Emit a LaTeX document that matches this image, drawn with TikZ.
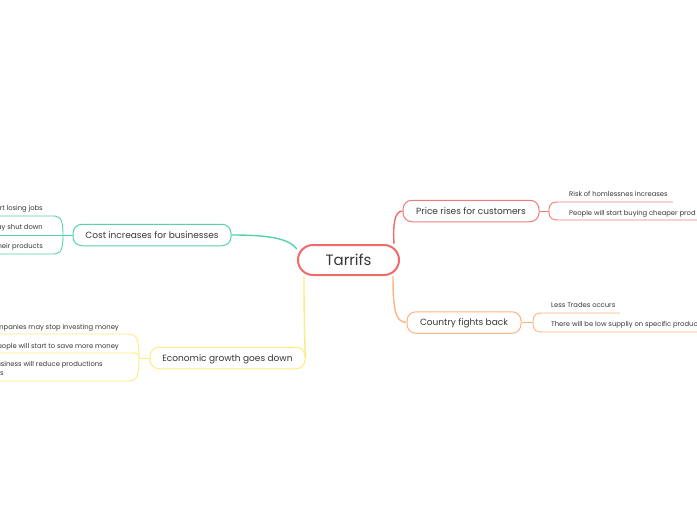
\documentclass[tikz,border=0pt]{standalone}
\usepackage{fontspec}
\setmainfont{Poppins}
\definecolor{rootred}{RGB}{242,107,107}
\definecolor{redl}{RGB}{244,122,122}
\definecolor{orng}{RGB}{255,180,128}
\definecolor{grn}{RGB}{86,212,166}
\definecolor{yel}{RGB}{253,236,130}
\definecolor{txt}{RGB}{55,55,55}
\begin{document}
\begin{tikzpicture}[x=1pt,y=-1pt,
  rootbox/.style={draw=rootred, line width=2pt, rounded corners=15pt, minimum width=101pt, minimum height=30pt, inner sep=0pt, text height=10.5pt, text depth=0pt, font=\fontsize{15}{18}\selectfont, text=txt, fill=white},
  topicbox/.style={line width=1pt, rounded corners=9pt, minimum height=21.5pt, inner sep=0pt, text height=6.4pt, text depth=0pt, font=\fontsize{9}{11}\selectfont, text=txt, fill=white},
  subtext/.style={inner sep=0pt, text height=4.8pt, text depth=0pt, font=\fontsize{6.8}{9}\selectfont, text=txt},
  conn/.style={line width=1.4pt},
  subconn/.style={line width=0.9pt}]
\useasboundingbox (0,0) rectangle (697,520);
\fill[white] (0,0) rectangle (697,520);
\clip (0,0) rectangle (697,520);

% root
\node[rootbox] (T) at (348.5,260) {Tarrifs};

% main topics
\node[topicbox, draw=redl, minimum width=136pt] (P) at (471,211) {Price rises for customers};
\node[topicbox, draw=orng, minimum width=114pt] (C) at (464,322.5) {Country fights back};
\node[topicbox, draw=grn, minimum width=158pt] (B) at (152,235) {Cost increases for businesses};
\node[topicbox, draw=yel, minimum width=155pt] (E) at (227.5,358) {Economic growth goes down};

% connectors from root
\draw[conn, draw=rootred] ([xshift=-6pt]T.north east) .. controls (393,226) and (394,211) .. (P.west);
\draw[conn, draw=orng] ([xshift=-7pt]T.south east) .. controls (393,308) and (395,322.5) .. (C.west);
\draw[conn, draw=grn] (B.east) .. controls (268,235) and (288,238) .. ([yshift=11pt]T.west);
\draw[conn, draw=yel] ([xshift=-44.5pt]T.south) .. controls (304,330) and (305,345) .. (E.east);

% Price subtopics
\coordinate (pj) at (549,211);
\coordinate (p1s) at (561,202);
\coordinate (p1e) at (673,202);
\coordinate (p2s) at (561,220);
\coordinate (p2e) at (700,220);
\draw[subconn, draw=redl] (P.east) -- (pj);
\draw[subconn, draw=redl] (pj) .. controls (549,202) and (553,202) .. (p1s) -- (p1e);
\draw[subconn, draw=redl] (pj) .. controls (549,220) and (553,220) .. (p2s) -- (p2e);
\node[subtext, anchor=west] (p1) at (569,194.5) {Risk of homlessnes increases};
\node[subtext, anchor=west] (p2) at (569,213) {People will start buying cheaper prod};

% Country subtopics
\coordinate (cj) at (533,322.5);
\coordinate (c1s) at (545,313);
\coordinate (c1e) at (620,313);
\coordinate (c2s) at (545,332);
\coordinate (c2e) at (700,332);
\draw[subconn, draw=orng] (C.east) -- (cj);
\draw[subconn, draw=orng] (cj) .. controls (533,313) and (537,313) .. (c1s) -- (c1e);
\draw[subconn, draw=orng] (cj) .. controls (533,332) and (537,332) .. (c2s) -- (c2e);
\node[subtext, anchor=west] (c1) at (551,305.5) {Less Trades occurs};
\node[subtext, anchor=west] (c2) at (551,324) {There will be low suppliy on specific produc};

% Cost subtopics
\coordinate (bj) at (63,235);
\coordinate (b1s) at (51,216);
\coordinate (b1e) at (-3,216);
\coordinate (b2e) at (-3,235);
\coordinate (b3s) at (51,254);
\coordinate (b3e) at (-3,254);
\draw[subconn, draw=grn] (B.west) -- (bj);
\draw[subconn, draw=grn] (bj) .. controls (63,216) and (59,216) .. (b1s) -- (b1e);
\draw[subconn, draw=grn] (bj) -- (b2e);
\draw[subconn, draw=grn] (bj) .. controls (63,254) and (59,254) .. (b3s) -- (b3e);
\node[subtext, anchor=east] (b1) at (43,208.5) {rt losing jobs};
\node[subtext, anchor=east] (b2) at (43,227.5) {ay shut down};
\node[subtext, anchor=east] (b3) at (43,246.5) {heir products};

% Economic subtopics
\coordinate (ej) at (139,358);
\coordinate (e1s) at (125,334);
\coordinate (e1e) at (-3,334);
\coordinate (e2s) at (131,353);
\coordinate (e2e) at (-3,353);
\coordinate (e3s) at (125,381);
\coordinate (e3e) at (-3,381);
\draw[subconn, draw=yel] (E.west) -- (ej);
\draw[subconn, draw=yel] (ej) .. controls (139,334) and (135,334) .. (e1s) -- (e1e);
\draw[subconn, draw=yel] (ej) .. controls (139,353) and (136,353) .. (e2s) -- (e2e);
\draw[subconn, draw=yel] (ej) .. controls (139,381) and (135,381) .. (e3s) -- (e3e);
\node[subtext, anchor=east] (e1) at (119,327.5) {mpanies may stop investing money};
\node[subtext, anchor=east] (e2) at (119,346.5) {eople will start to save more money};
\node[subtext, text height=, text depth=, anchor=north east, align=left] (e3) at (103,361.5) {usiness will reduce productions\\ss};
\end{tikzpicture}
\end{document}
